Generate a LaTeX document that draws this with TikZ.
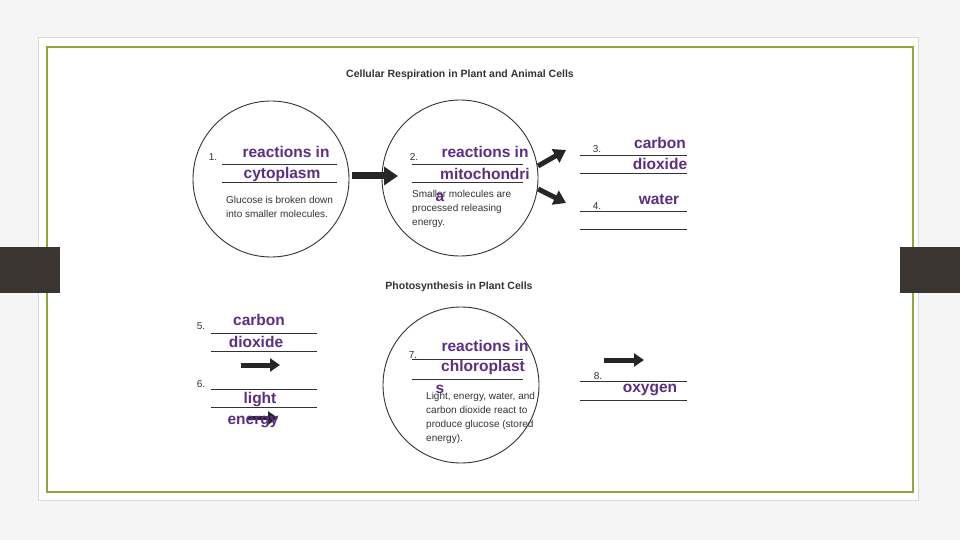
\documentclass[tikz,border=0pt]{standalone}
\usepackage{fontspec}
\setmainfont{Liberation Sans}
\usetikzlibrary{arrows.meta}
\definecolor{pur}{HTML}{5B2D84}
\definecolor{txt}{HTML}{333333}
\definecolor{tab}{HTML}{3A3530}
\definecolor{grn}{HTML}{8FA63A}
\begin{document}
\begin{tikzpicture}[x=1pt,y=-1pt,
  ans/.style={text=pur,font=\fontsize{15.5}{17}\selectfont\bfseries,inner sep=0pt},
  num/.style={text=txt,font=\fontsize{10}{11}\selectfont,inner sep=0pt},
  desc/.style={text=txt,font=\fontsize{10}{14}\selectfont,inner sep=0pt,anchor=west,align=left},
  ttl/.style={text=txt,font=\fontsize{10.5}{12}\selectfont\bfseries,inner sep=0pt},
  cell/.style={draw=txt,line width=0.9pt,circle,minimum size=156pt,inner sep=0pt},
  rule/.style={draw=txt,line width=0.7pt},
  fat/.style={line width=5pt,draw=black!85,-{Triangle[length=10pt,width=13pt]}}]
\useasboundingbox (0,0) rectangle (960,540);
\fill[white!96!black] (0,0) rectangle (960,540);
\fill[white] (38,38) rectangle (918,500);
\draw[black!15,line width=1pt] (38,38) rectangle (918,500);
\draw[grn,line width=1.2pt] (47,47) rectangle (913,492);
\fill[white] (150,62) rectangle (818,477);
\fill[tab] (0,247) rectangle (60,293);
\fill[tab] (900,247) rectangle (960,293);
% titles
\node[ttl] (t1) at (460,75) {Cellular Respiration in Plant and Animal Cells};
\node[ttl] (t2) at (459,287) {Photosynthesis in Plant Cells};
% circles
\node[cell] (c1) at (271,179) {};
\node[cell] (c2) at (460,178) {};
\node[cell] (c3) at (461,385) {};
% circle 1
\node[num] (n1) at (213,157) {1.};
\draw[rule] (222,164) -- (337,164) (222,182) -- (337,182);
\node[ans] (a1) at (286,152) {reactions in};
\node[ans] (a1b) at (282,174) {cytoplasm};
\node[desc] (d1) at (226,207) {Glucose is broken down\\into smaller molecules.};
% circle 2
\node[num] (n2) at (414,157) {2.};
\draw[rule] (412,164) -- (523,164) (412,182) -- (523,182);
\node[ans] (a2) at (485,152) {reactions in};
\node[ans] (a2b) at (485,174) {mitochondri};
\node[desc] (d2) at (412,209) {Smaller molecules are\\processed releasing\\energy.};
\node[ans] (a2c) at (440,197) {a};
% arrows
\coordinate (o1) at (538,166); \coordinate (o2) at (538,189);
\coordinate (e1) at (566,150); \coordinate (e2) at (566,203);
\coordinate (s1) at (352,176); \coordinate (s2) at (398,176);
\draw[fat,line width=7pt,-{Triangle[length=14pt,width=18pt]}] (s1) -- (s2);
\draw[fat,line width=5pt,-{Triangle[length=12pt,width=15pt]}] (o1) -- (e1);
\draw[fat,line width=5pt,-{Triangle[length=12pt,width=15pt]}] (o2) -- (e2);
% 3 and 4
\node[num] (n3) at (597,149) {3.};
\draw[rule] (580,155) -- (687,155) (580,173) -- (687,173);
\node[ans] (a3) at (660,143) {carbon};
\node[ans] (a3b) at (660,164) {dioxide};
\node[num] (n4) at (597,206) {4.};
\draw[rule] (580,211) -- (687,211) (580,229) -- (687,229);
\node[ans] (a4) at (659,200) {water};
% 5 and 6
\node[num] (n5) at (201,326) {5.};
\draw[rule] (211,333) -- (317,333) (211,351) -- (317,351);
\node[ans] (a5) at (259,320) {carbon};
\node[ans] (a5b) at (256,342) {dioxide};
\coordinate (p1) at (241,365); \coordinate (p2) at (280,365);
\draw[fat] (p1) -- (p2);
\node[num] (n6) at (201,384) {6.};
\draw[rule] (211,389) -- (317,389) (211,407) -- (317,407);
\coordinate (q1) at (248,418); \coordinate (q2) at (278,418);
\draw[fat,line width=3.5pt] (q1) -- (q2);
\node[ans] (a6) at (260,400) {light};
\node[ans] (a6b) at (253,422) {energy};
% circle 3
\node[num] (n7) at (413,355) {7.};
\draw[rule] (412,359) -- (523,359) (412,379) -- (523,379);
\node[ans] (a7) at (485,346) {reactions in};
\node[ans] (a7b) at (483,367) {chloroplast};
\node[desc] (d3) at (426,418) {Light, energy, water, and\\carbon dioxide react to\\produce glucose (stored\\energy).};
\node[ans] (a7c) at (440,389) {s};
% 8
\coordinate (r1) at (604,360); \coordinate (r2) at (644,360);
\draw[fat] (r1) -- (r2);
\node[num] (n8) at (598,376) {8.};
\draw[rule] (580,381) -- (687,381) (580,400) -- (687,400);
\node[ans] (a8) at (650,390) {oxygen};
\end{tikzpicture}
\end{document}
